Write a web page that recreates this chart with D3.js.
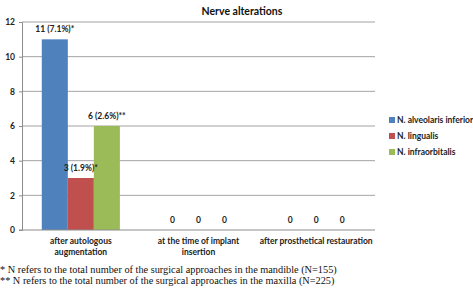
<!DOCTYPE html>
<html>
<head>
<meta charset="utf-8">
<script src="https://cdn.jsdelivr.net/npm/d3@7"></script>
<style>
  body { margin: 0; background: #fff; }
  svg { display: block; }
</style>
</head>
<body>
<svg width="473" height="289"></svg>
<script>
// Chart data
const categories = [
  ["after autologous", "augmentation"],
  ["at the time of implant", "insertion"],
  ["after prosthetical restauration"]
];
const seriesNames = ["N. alveolaris inferior", "N. lingualis", "N. infraorbitalis"];
const seriesColors = ["#4f81bd", "#c0504d", "#9bbb59"];
const values = [
  [11, 0, 0],
  [3, 0, 0],
  [6, 0, 0]
];
const labels = [
  ["11 (7.1%)*", "0", "0"],
  ["3 (1.9%)*", "0", "0"],
  ["6 (2.6%)**", "0", "0"]
];
const yTicks = [0, 2, 4, 6, 8, 10, 12];
const footnotes = [
  "* N refers to the total number of the surgical approaches in the mandible (N=155)",
  "** N refers to the total number of the surgical approaches in the maxilla (N=225)"
];

const plot = { left: 22, right: 375, top: 22, bottom: 230 };
const font = "Lato, sans-serif";

const svg = d3.select("svg");

// Scales
const x0 = d3.scaleBand()
  .domain(d3.range(categories.length))
  .range([plot.left, plot.right]);
const x1 = d3.scaleBand()
  .domain(d3.range(seriesNames.length))
  .range([0, x0.bandwidth()])
  .paddingInner(0)
  .paddingOuter(0.76);
const y = d3.scaleLinear().domain([0, 12]).range([plot.bottom, plot.top]);

// Gridlines
svg.append("g")
  .selectAll("line")
  .data(yTicks.filter((d) => d > 0))
  .join("line")
  .attr("x1", plot.left)
  .attr("x2", plot.right)
  .attr("y1", (d) => y(d))
  .attr("y2", (d) => y(d))
  .attr("stroke", "#8c8c8c")
  .attr("stroke-width", 0.8);

// Bars
seriesNames.forEach((name, s) => {
  svg.append("g")
    .selectAll("rect")
    .data(values[s])
    .join("rect")
    .attr("x", (d, i) => x0(i) + x1(s))
    .attr("y", (d) => y(d))
    .attr("width", x1.bandwidth())
    .attr("height", (d) => y(0) - y(d))
    .attr("fill", seriesColors[s]);
});

// Y axis
const yAxis = svg.append("g")
  .attr("transform", `translate(${plot.left},0)`)
  .call(d3.axisLeft(y).tickValues(yTicks).tickSize(3).tickPadding(4));
yAxis.select(".domain").attr("stroke", "#8c8c8c");
yAxis.selectAll(".tick line").attr("stroke", "#8c8c8c");
yAxis.selectAll("text")
  .attr("fill", "#222")
  .style("font-family", font)
  .style("font-size", "8.5px")
  .style("font-weight", "bold");

// X axis baseline
svg.append("line")
  .attr("x1", plot.left - 3)
  .attr("x2", plot.right)
  .attr("y1", y(0))
  .attr("y2", y(0))
  .attr("stroke", "#8c8c8c");

// Data labels
seriesNames.forEach((name, s) => {
  svg.append("g")
    .selectAll("text")
    .data(values[s])
    .join("text")
    .attr("x", (d, i) => x0(i) + x1(s) + x1.bandwidth() / 2)
    .attr("y", (d) => y(d) - 7)
    .attr("text-anchor", "middle")
    .style("font-family", font)
    .style("font-size", "8.5px")
    .style("font-weight", "bold")
    .attr("fill", "#222")
    .text((d, i) => labels[s][i]);
});

// Category labels
categories.forEach((lines, i) => {
  const t = svg.append("text")
    .attr("text-anchor", "middle")
    .style("font-family", font)
    .style("font-size", "8.5px")
    .style("font-weight", "bold")
    .attr("fill", "#222");
  lines.forEach((line, j) => {
    t.append("tspan")
      .attr("x", x0(i) + x0.bandwidth() / 2)
      .attr("y", 244 + j * 11)
      .text(line);
  });
});

// Title
svg.append("text")
  .attr("x", 242)
  .attr("y", 15)
  .attr("text-anchor", "middle")
  .style("font-family", font)
  .style("font-size", "10.5px")
  .style("font-weight", "bold")
  .attr("fill", "#111")
  .text("Nerve alterations");

// Legend
const legend = svg.append("g").attr("transform", "translate(389,122)");
seriesNames.forEach((name, s) => {
  const row = legend.append("g").attr("transform", `translate(0,${s * 16})`);
  row.append("rect")
    .attr("x", 0)
    .attr("y", -5)
    .attr("width", 6)
    .attr("height", 6)
    .attr("fill", seriesColors[s]);
  row.append("text")
    .attr("x", 8)
    .attr("y", 1)
    .style("font-family", font)
    .style("font-size", "8.5px")
    .style("font-weight", "bold")
    .attr("fill", "#222")
    .text(name);
});

// Footnotes
footnotes.forEach((f, i) => {
  svg.append("text")
    .attr("x", 0)
    .attr("y", 273 + i * 11)
    .style("font-family", "'Liberation Serif', serif")
    .style("font-size", "10.3px")
    .attr("fill", "#111")
    .text(f);
});
</script>
</body>
</html>
